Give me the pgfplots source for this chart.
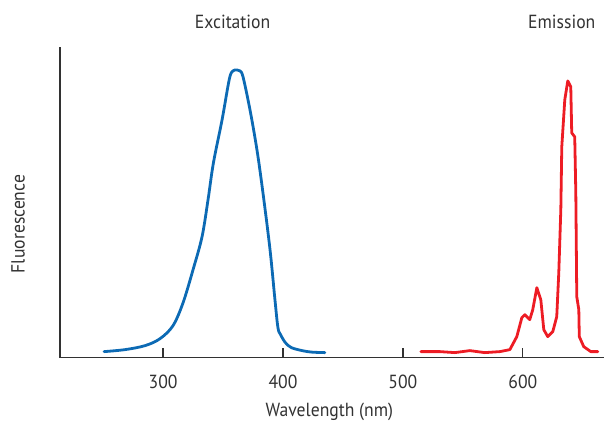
\documentclass[border=0pt]{standalone}
\usepackage{pgfplots}
\pgfplotsset{compat=1.18}
\usepackage{fontspec}
\setmainfont[FakeStretch=0.93]{PT Sans}
\definecolor{exblue}{RGB}{12,106,180}
\definecolor{emred}{RGB}{237,28,36}
\definecolor{axgray}{RGB}{50,50,50}
\begin{document}
\begin{tikzpicture}
\fontsize{19bp}{22bp}\selectfont
\begin{axis}[
  scale only axis,
  width=545bp, height=311bp,
  xmin=214, xmax=668, ymin=0, ymax=311,
  axis lines=left,
  axis line style={axgray, line width=1.3bp, -},
  xtick={300,400,500,600},
  ytick=\empty,
  xtick align=inside,
  major tick length=10bp,
  tick style={axgray, line width=1.3bp},
  /pgf/number format/assume math mode=true,
  /pgf/number format/1000 sep={},
  xticklabel style={font=\fontsize{19bp}{22bp}\selectfont, text=axgray, yshift=-11bp},
  xlabel={Wavelength (nm)},
  xlabel style={at={(axis description cs:0.495,-0.175)}, anchor=center, font=\fontsize{19bp}{22bp}\selectfont, text=axgray},
  ylabel={Fluorescence},
  ylabel style={at={(axis description cs:-0.077,0.43)}, anchor=center, font=\fontsize{19bp}{22bp}\selectfont, text=axgray},
  clip=false,
]
\addplot[exblue, line width=2.8bp, line join=round, line cap=round, smooth, tension=0.55] coordinates {
(250.8,6) (268.3,8) (285,12) (297.5,19) (308.3,32) (316.7,55) (325,88)
(332.5,121) (337.5,158) (342,195) (349.2,238) (355.3,279) (358.3,287)
(361.7,288) (364.2,287) (366.7,281) (372.5,248) (378.3,208) (383.3,165)
(389.2,108) (393.3,58) (395.8,30) (398,23) (402,15) (407,10)
(416,7) (424,5.5) (435,5)
};
\addplot[emred, line width=2.8bp, line join=round, line cap=round] coordinates {
(515,6) (530.8,6) (543.3,5) (555.8,7) (568.3,5) (580.8,6) (589.2,8)
(595,21) (599.2,40) (601.7,43) (605.8,38) (608.3,48) (611.7,70) (615,58)
(617.5,28) (620.8,21) (625,26) (628.3,41) (630,85) (631.7,148) (632.5,211)
(635,258) (637.5,277) (640,271) (640.8,225) (643.3,221) (644.2,165)
(645,61) (646.7,48) (647.1,21) (650.8,11) (656.7,6) (662.5,6)
};
\node[text=axgray, font=\fontsize{19bp}{22bp}\selectfont] at (axis cs:358,336) {Excitation};
\node[text=axgray, font=\fontsize{19bp}{22bp}\selectfont] at (axis cs:632.5,336) {Emission};
\end{axis}
\path ([shift={(-60bp,-62bp)}]current axis.south west) rectangle ([shift={(0bp,47bp)}]current axis.north east);
\end{tikzpicture}
\end{document}
